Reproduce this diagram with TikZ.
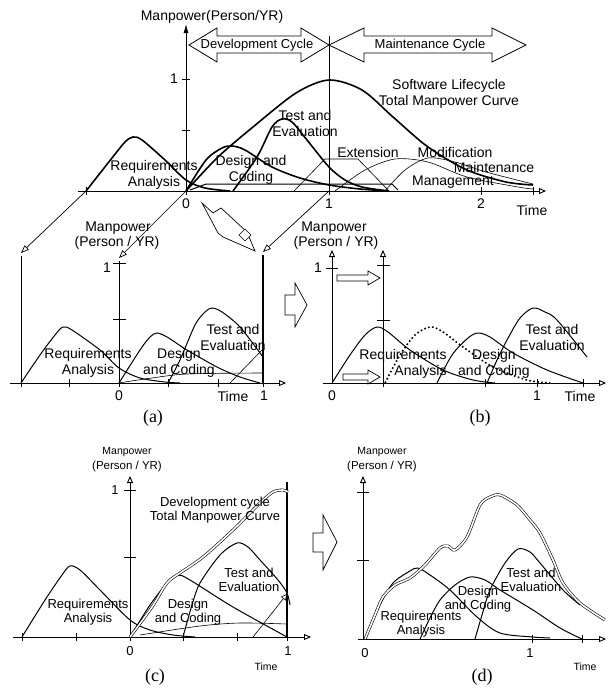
\documentclass[tikz,border=0pt]{standalone}
\usepackage{fontspec}
\setmainfont{Liberation Sans}
\newfontfamily\capfont{Liberation Serif}
\usetikzlibrary{arrows.meta}

\begin{document}
\begin{tikzpicture}[x=1pt,y=-1pt,font=\fontsize{14}{16}\selectfont,
  thin curve/.style={line width=0.6pt},
  mid curve/.style={line width=1pt},
  bold curve/.style={line width=1.6pt},
  total curve/.style={line width=0.6pt,double=white,double distance=1.6pt},
  dotted curve/.style={line width=1.6pt,dash pattern=on 1.6pt off 2.4pt},
  axis line/.style={line width=0.9pt},
  open tip/.style={-{Triangle[open,length=7pt,width=6pt]}},
  conn/.style={line width=0.7pt,-{Triangle[open,length=8pt,width=6pt]}},
  hollow arrow/.style={line width=0.7pt,fill=white},
  lbl/.style={inner sep=0pt,align=center},
  small lbl/.style={inner sep=0pt,align=center,font=\fontsize{13}{14}\selectfont},
  panel tag/.style={inner sep=0pt,font=\capfont\fontsize{18}{18}\selectfont}]

\useasboundingbox (0,0) rectangle (612,688);

% ---- top: software lifecycle
\coordinate (rqs) at (86,191);
\coordinate (org) at (186,191);
\coordinate (one) at (329,191);

\draw[axis line,open tip] (78,191) -- (546,191);
\draw[axis line,-{Latex[length=9pt,width=5pt]}] (org) -- (186,24);
\draw[axis line] (329,36) -- (one);
\foreach \x in {86,186,329,481,533} \draw (\x,187) -- (\x,195);
\foreach \y in {79,130} \draw (182,\y) -- (190,\y);

\node[lbl] (ttl) at (212,17) {Manpower(Person/YR)};
\node[lbl] (yone) at (174,79) {1};
\node[lbl] (t0) at (186,204) {0};
\node[lbl] (t1) at (329,204) {1};
\node[lbl] (t2) at (481,204) {2};
\node[lbl] (tt) at (532,210) {Time};

\draw[line width=0.8pt,fill=white] (189,45) -- (217,28) -- (217,36) -- (301,36) -- (301,28) -- (329,45)
  -- (301,62) -- (301,53) -- (217,53) -- (217,62) -- cycle;
\draw[line width=0.8pt,fill=white] (329,45) -- (364,28) -- (364,36) -- (492,36) -- (492,28) -- (526,45)
  -- (492,62) -- (492,53) -- (364,53) -- (364,62) -- cycle;
\node[lbl,font=\fontsize{13}{14}\selectfont] (dev) at (257,45) {Development Cycle};
\node[lbl,font=\fontsize{13}{14}\selectfont] (mnt) at (430,45) {Maintenance Cycle};

\draw[bold curve] plot[smooth] coordinates {(86,191) (112,158) (125,142) (133,137) (142,140) (165,160) (186,180) (205,188) (230,191)};
\draw[bold curve] plot[smooth] coordinates {(186,191) (206,160) (222,148) (232,146) (245,150) (272,167) (300,178) (329,185) (360,189) (389,191)};
\draw[bold curve] plot[smooth] coordinates {(233,191) (257,157) (272,127) (282,119) (292,122) (307,140) (329,167) (345,180) (362,187) (389,191)};
\draw[bold curve] plot[smooth] coordinates {(186,191) (218,157) (253,127) (296,93) (329,80) (362,90) (393,117) (428,147) (467,170) (506,182) (533,185)};
\draw[thin curve] (294,191) -- (325,159) -- (358,159) -- (389,191);
\draw[thin curve] plot[smooth] coordinates {(335,191) (365,170) (395,159) (428,162) (467,177) (518,187) (533,189)};
\draw[thin curve] plot[smooth] coordinates {(385,191) (405,170) (428,158) (455,162) (486,172) (533,184)};
\draw[mid curve] (190,190) -- (206,184) -- (392,184) -- (398,190);

\node[lbl] (ra) at (154,175) {Requirements\\Analysis};
\node[lbl] (dc) at (251,170) {Design and\\Coding};
\node[lbl] (te) at (305,123) {Test and\\Evaluation};
\node[lbl] (ext) at (368,152) {Extension};
\node[lbl] (mod) at (455,152) {Modification};
\node[lbl] (man) at (494,167) {Maintenance};
\node[lbl] (mgt) at (453,182) {Management};
\node[lbl] (slc) at (449,94) {Software Lifecycle\\Total Manpower Curve};

% arrow down to (a)
\draw[hollow arrow] (202,203) -- (213,213) -- (221,208) -- (247,232) -- (255,251) -- (223,237) -- (218,233) -- cycle;
\draw[line width=0.6pt,fill=white] (245,229) -- (251,235) -- (245,241) -- (239,235) -- cycle;

% ---- (a)
\coordinate (al) at (21,253);
\coordinate (ay) at (119,258);
\coordinate (ar) at (263,252);
\draw[axis line] (21,383) -- (21,256);
\draw[axis line] (119,383) -- (119,261);
\draw[line width=1.8pt] (263,383) -- (263,255);
\draw[axis line,open tip] (10,383) -- (286,383);
\foreach \x in {21,69,119,168,218,263} \draw (\x,379) -- (\x,387);
\foreach \y in {263,319} \draw (113,\y) -- (126,\y);
\draw[conn] (rqs) -- (al);
\draw[conn] (org) -- (ay);
\draw[conn] (one) -- (ar);

\node[lbl] (amp) at (118,228) {Manpower};
\node[lbl] (apy) at (117,243) {(Person / YR)};
\node[lbl] (ay1) at (107,268) {1};
\node[lbl] (a0) at (119,396) {0};
\node[lbl] (atm) at (233,396) {Time};
\node[lbl] (a1) at (264,396) {1};
\node[panel tag] (capa) at (153,418) {(a)};

\draw[mid curve] plot[smooth] coordinates {(21,383) (40,355) (55,335) (63,327) (72,330) (100,350) (119,368) (140,378) (165,382) (180,383)};
\draw[mid curve] plot[smooth] coordinates {(119,383) (140,350) (150,337) (157,333) (167,337) (187,350) (217,367) (240,377) (260,383)};
\draw[mid curve] plot[smooth] coordinates {(168,383) (180,360) (195,325) (205,312) (212,308) (222,312) (240,327) (263,357)};
\draw[thin curve] (230,383) -- (263,349);
\draw[thin curve] plot[smooth] coordinates {(119,383) (145,379) (187,374) (263,373)};

\node[lbl] (ara) at (88,363) {Requirements\\Analysis};
\node[lbl] (adc) at (179,363) {Design\\and Coding};
\node[lbl] (ate) at (233,337) {Test and\\Evaluation};

% (a) -> (b)
\draw[hollow arrow] (285,295) -- (295,295) -- (295,283) -- (307,305) -- (295,327) -- (295,315) -- (285,315) -- cycle;

% ---- (b)
\draw[axis line,open tip] (332,383) -- (332,250);
\draw[axis line,open tip] (383,383) -- (383,250);
\draw[axis line,open tip] (323,383) -- (606,383);
\foreach \x in {383,485,537,583} \draw (\x,379) -- (\x,387);
\foreach \y in {265,320} \draw (377,\y) -- (390,\y);
\draw (326,268) -- (338,268);

\node[lbl] (bmp) at (334,228) {Manpower};
\node[lbl] (bpy) at (336,243) {(Person / YR)};
\node[lbl] (by1) at (318,268) {1};
\node[lbl] (b0) at (332,396) {0};
\node[lbl] (b1) at (537,396) {1};
\node[lbl] (btm) at (580,396) {Time};
\node[panel tag] (capb) at (480,418) {(b)};

\draw[hollow arrow] (337,275) -- (368,275) -- (368,271) -- (380,278) -- (368,285) -- (368,281) -- (337,281) -- cycle;
\draw[hollow arrow] (343,374) -- (368,374) -- (368,370) -- (380,377) -- (368,384) -- (368,380) -- (343,380) -- cycle;

\draw[mid curve] plot[smooth] coordinates {(332,383) (350,355) (365,335) (377,327) (388,332) (410,350) (443,370) (473,380) (495,383)};
\draw[dotted curve] plot[smooth] coordinates {(385,383) (400,355) (415,335) (430,327) (443,332) (463,347) (493,367) (527,380) (550,383)};
\draw[mid curve] plot[smooth] coordinates {(437,383) (452,355) (468,338) (478,333) (490,337) (513,353) (547,370) (583,383)};
\draw[mid curve] plot[smooth] coordinates {(487,383) (497,360) (507,340) (520,318) (533,308) (545,312) (557,320) (587,357)};

\node[lbl,align=right] (bra) at (403,364) {Requirements\\Analysis};
\node[lbl] (bdc) at (494,364) {Design\\and Coding};
\node[lbl] (bte) at (552,337) {Test and\\Evaluation};

% ---- (c)
\draw[axis line,open tip] (130,637) -- (130,476);
\draw[line width=1.6pt] (287,637) -- (287,482);
\draw[axis line,open tip] (13,637) -- (311,637);
\foreach \x in {22,76,130,183,237,287} \draw (\x,633) -- (\x,641);
\foreach \y in {490,557} \draw (124,\y) -- (136,\y);

\node[lbl,font=\fontsize{10.5}{12}\selectfont] (cmp) at (127,452) {Manpower};
\node[lbl,font=\fontsize{11.5}{12}\selectfont] (cpy) at (127,467) {(Person / YR)};
\node[small lbl] (cy1) at (115,490) {1};
\node[small lbl] (c0) at (130,651) {0};
\node[small lbl] (c1) at (288,651) {1};
\node[lbl,font=\fontsize{10.5}{12}\selectfont] (ctm) at (266,667) {Time};
\node[panel tag] (capc) at (155,677) {(c)};

\draw[mid curve] plot[smooth] coordinates {(22,637) (45,600) (62,575) (70,566) (80,570) (100,590) (130,620) (150,630) (173,635) (195,637)};
\draw[mid curve] plot[smooth] coordinates {(130,637) (150,605) (168,582) (178,575) (190,580) (233,607) (287,637)};
\draw[mid curve] plot[smooth] coordinates {(183,637) (192,605) (200,583) (220,555) (237,543) (248,547) (260,560) (278,580) (287,593) (290,605)};
\draw[thin curve,-{Triangle[open,length=6pt,width=6pt]}] (253,637) -- (287,594);
\draw[thin curve] plot[smooth] coordinates {(140,635) (200,626) (240,623) (287,624)};
\draw[total curve] plot[smooth] coordinates {(130,637) (152,607) (167,583) (180,573) (203,557) (233,530) (260,503) (273,492) (283,490) (288,492)};

\node[small lbl] (cdt) at (215,510) {Development cycle\\Total Manpower Curve};
\node[small lbl] (cte) at (249,580) {Test and\\Evaluation};
\node[small lbl] (cdc) at (188,612) {Design\\and Coding};
\node[small lbl] (cra) at (88,612) {Requirements\\Analysis};

% (c) -> (d)
\draw[hollow arrow] (313,533) -- (323,533) -- (323,515) -- (337,542) -- (323,570) -- (323,552) -- (313,552) -- cycle;

% ---- (d)
\draw[axis line,open tip] (363,639) -- (363,476);
\draw[axis line,open tip] (358,639) -- (606,639);
\foreach \x in {532,582} \draw (\x,635) -- (\x,643);
\foreach \y in {492,560} \draw (357,\y) -- (369,\y);

\node[lbl,font=\fontsize{10.5}{12}\selectfont] (dmp) at (382,452) {Manpower};
\node[lbl,font=\fontsize{11.5}{12}\selectfont] (dpy) at (382,467) {(Person / YR)};
\node[small lbl] (d0) at (365,653) {0};
\node[small lbl] (d1) at (530,653) {1};
\node[lbl,font=\fontsize{10.5}{12}\selectfont] (dtm) at (585,667) {Time};
\node[panel tag] (capd) at (482,677) {(d)};

\draw[mid curve] plot[smooth] coordinates {(365,639) (380,605) (393,583) (410,571) (418,568) (430,575) (450,590) (477,617) (500,633) (533,637) (550,638)};
\draw[mid curve] plot[smooth] coordinates {(420,639) (430,618) (440,600) (455,585) (470,577) (485,580) (500,590) (533,610) (560,628) (582,639)};
\draw[mid curve] plot[smooth] coordinates {(475,639) (482,615) (490,590) (505,563) (518,549) (530,552) (540,563) (563,590) (580,605)};
\draw[total curve] plot[smooth] coordinates {(365,639) (375,615) (383,597) (395,585) (410,578) (425,565) (440,548) (448,546) (455,550) (467,537) (480,505) (490,497) (500,495) (517,505) (530,520) (540,533) (553,560) (563,583) (580,603) (605,620)};

\node[small lbl] (dte) at (531,580) {Test and\\Evaluation};
\node[small lbl] (ddc) at (478,599) {Design\\and Coding};
\node[small lbl] (dra) at (421,624) {Requirements\\Analysis};

\end{tikzpicture}
\end{document}
